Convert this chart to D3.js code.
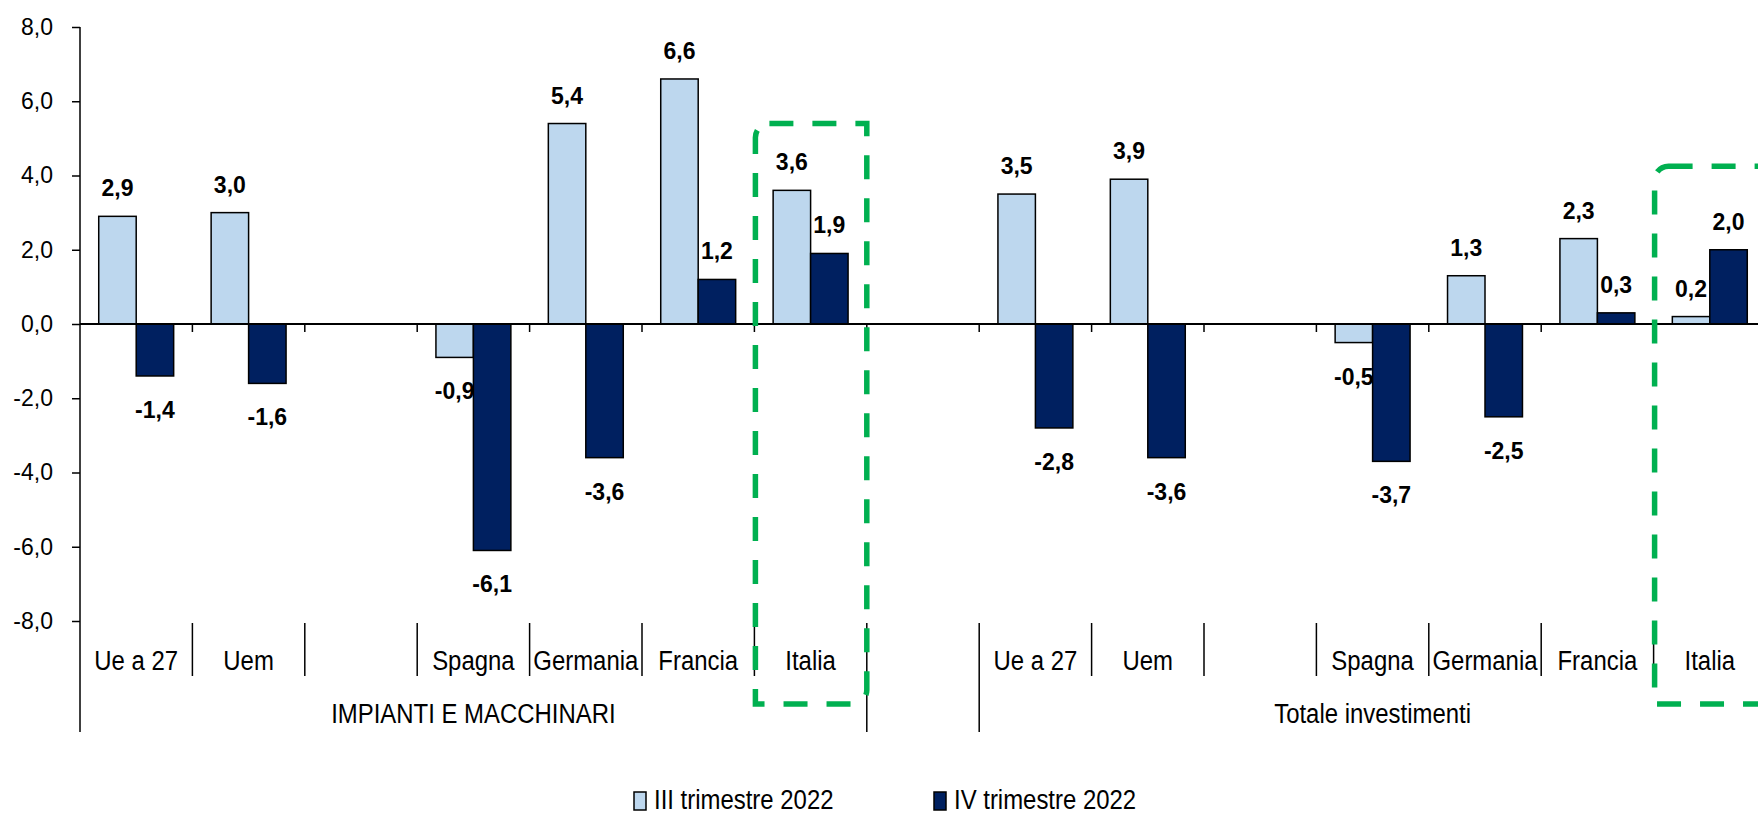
<!DOCTYPE html>
<html>
<head>
<meta charset="utf-8">
<script src="https://cdn.jsdelivr.net/npm/d3@7"></script>
<style>
  body { margin: 0; background: #fff; overflow: hidden; }
  svg { display: block; }
  text { font-family: "Liberation Sans", Arial, sans-serif; fill: #000; }
</style>
</head>
<body>
<svg id="chart" width="1758" height="815"></svg>
<script>
// values (percent changes)
const groupNames = ["IMPIANTI E MACCHINARI", "Totale investimenti"];
const countries = ["Ue a 27", "Uem", "", "Spagna", "Germania", "Francia", "Italia"];
const seriesNames = ["III trimestre 2022", "IV trimestre 2022"];
const impiantiIII = [2.9, 3.0, null, -0.9, 5.4, 6.6, 3.6];
const impiantiIV = [-1.4, -1.6, null, -6.1, -3.6, 1.2, 1.9];
const totaleIII = [3.5, 3.9, null, -0.5, 1.3, 2.3, 0.2];
const totaleIV = [-2.8, -3.6, null, -3.7, -2.5, 0.3, 2.0];
const yTicks = [-8, -6, -4, -2, 0, 2, 4, 6, 8];
const highlight = "Italia";

const colors = ["#bdd7ee", "#002060"];
const NARROW = 0.855; // squeeze Liberation Sans to look like Arial Narrow

// one slot per category, plus an empty slot between the two groups
const slots = [];
countries.forEach((c, i) => slots.push({ group: 0, name: c, vals: [impiantiIII[i], impiantiIV[i]] }));
slots.push({ group: -1, name: "", vals: [null, null] });
countries.forEach((c, i) => slots.push({ group: 1, name: c, vals: [totaleIII[i], totaleIV[i]] }));
slots.forEach((s, i) => (s.id = i));

const svg = d3.select("#chart");
const x = d3.scaleBand().domain(slots.map((d) => d.id)).range([80, 1766]).padding(0);
const y = d3.scaleLinear().domain([-8, 8]).range([621, 27]);
const bw = x.bandwidth() / 3;
const fmt = (v) => v.toFixed(1).replace(".", ",");

const catBottom = 676;
const groupBottom = 732;

// text squeezed horizontally around its own anchor point
function squeezed(sel, xFn, yFn, s) {
  return sel
    .attr("x", 0).attr("y", 0)
    .attr("transform", (d, i) => `translate(${xFn(d, i)},${yFn(d, i)}) scale(${s},1)`);
}

// y axis
const yAxis = svg.append("g")
  .attr("transform", "translate(80,0)")
  .call(d3.axisLeft(y).tickValues(yTicks).tickSize(8).tickPadding(19).tickFormat(fmt));
yAxis.select(".domain").remove();
yAxis.selectAll(".tick line").attr("stroke", "#000").attr("stroke-width", 1.5);
yAxis.selectAll(".tick text").attr("font-size", 23);
svg.append("line")
  .attr("x1", 80).attr("x2", 80)
  .attr("y1", y(8)).attr("y2", groupBottom)
  .attr("stroke", "#000").attr("stroke-width", 1.5);

// bars
const bars = [];
slots.forEach((s) => s.vals.forEach((v, k) => {
  if (v !== null) bars.push({ slot: s, k, v });
}));
const barX = (d) => x(d.slot.id) + bw / 2 + d.k * bw;

svg.append("g").selectAll("rect")
  .data(bars)
  .join("rect")
  .attr("x", barX)
  .attr("width", bw)
  .attr("y", (d) => y(Math.max(0, d.v)))
  .attr("height", (d) => Math.abs(y(d.v) - y(0)))
  .attr("fill", (d) => colors[d.k])
  .attr("stroke", "#000")
  .attr("stroke-width", 1.5);

// zero line and its ticks at category boundaries
svg.append("line")
  .attr("x1", 80).attr("x2", 1766)
  .attr("y1", y(0)).attr("y2", y(0))
  .attr("stroke", "#000").attr("stroke-width", 2);
svg.append("g").selectAll("line")
  .data(slots.slice(1))
  .join("line")
  .attr("x1", (d) => x(d.id)).attr("x2", (d) => x(d.id))
  .attr("y1", y(0)).attr("y2", y(0) + 8)
  .attr("stroke", "#000").attr("stroke-width", 1.5);

// data labels
svg.append("g").selectAll("text")
  .data(bars)
  .join("text")
  .attr("x", (d) => barX(d) + bw / 2)
  .attr("y", (d) => (d.v >= 0 ? y(d.v) - 20 : y(d.v) + 42))
  .attr("text-anchor", "middle")
  .attr("font-size", 23)
  .attr("font-weight", "bold")
  .text((d) => fmt(d.v));

// category axis (two levels)
const boundaries = d3.range(1, slots.length + 1).map((i) => {
  const left = slots[i - 1];
  const right = slots[i];
  const xb = right ? x(right.id) : x(left.id) + x.bandwidth();
  const long = !right || left.group !== right.group;
  return { xb, long };
});
svg.append("g").selectAll("line")
  .data(boundaries)
  .join("line")
  .attr("x1", (d) => d.xb).attr("x2", (d) => d.xb)
  .attr("y1", y(-8) + 2)
  .attr("y2", (d) => (d.long ? groupBottom : catBottom))
  .attr("stroke", "#000").attr("stroke-width", 1.5);

squeezed(
  svg.append("g").selectAll("text")
    .data(slots.filter((s) => s.name))
    .join("text")
    .attr("text-anchor", "middle")
    .attr("font-size", 28)
    .text((d) => d.name),
  (d) => x(d.id) + x.bandwidth() / 2,
  () => 670,
  NARROW
);

squeezed(
  svg.append("g").selectAll("text")
    .data(groupNames)
    .join("text")
    .attr("text-anchor", "middle")
    .attr("font-size", 28)
    .text((d) => d),
  (d, g) => {
    const gs = slots.filter((s) => s.group === g);
    return (x(gs[0].id) + x(gs[gs.length - 1].id) + x.bandwidth()) / 2;
  },
  () => 723,
  NARROW
);

// green dashed highlight around Italia
function diagRoundRect(x0, y0, x1, y1, r) {
  return `M${x0 + r},${y0}H${x1}V${y1 - r}A${r},${r} 0 0 1 ${x1 - r},${y1}H${x0}V${y0 + r}A${r},${r} 0 0 1 ${x0 + r},${y0}Z`;
}
const boxes = slots.filter((s) => s.name === highlight);
const boxTops = [y(5.4), y(4.25)];
svg.append("g").selectAll("path")
  .data(boxes)
  .join("path")
  .attr("d", (d, i) => {
    const x0 = x(d.id) + 1;
    const x1 = i === 0 ? x(d.id) + x.bandwidth() : x(d.id) + x.bandwidth() + 30;
    return diagRoundRect(x0, boxTops[i], x1, 704, 14);
  })
  .attr("fill", "none")
  .attr("stroke", "#00b050")
  .attr("stroke-width", 5.5)
  .attr("stroke-dasharray", "24 19");

// legend
const legend = svg.append("g").selectAll("g")
  .data(seriesNames)
  .join("g")
  .attr("transform", (d, i) => `translate(${[634, 934][i]},0)`);
legend.append("rect")
  .attr("x", 0).attr("y", 792)
  .attr("width", 12).attr("height", 18)
  .attr("fill", (d, i) => colors[i])
  .attr("stroke", "#000").attr("stroke-width", 1.5);
squeezed(
  legend.append("text")
    .attr("font-size", 28)
    .text((d) => d),
  () => 20,
  () => 809,
  NARROW
);
</script>
</body>
</html>
